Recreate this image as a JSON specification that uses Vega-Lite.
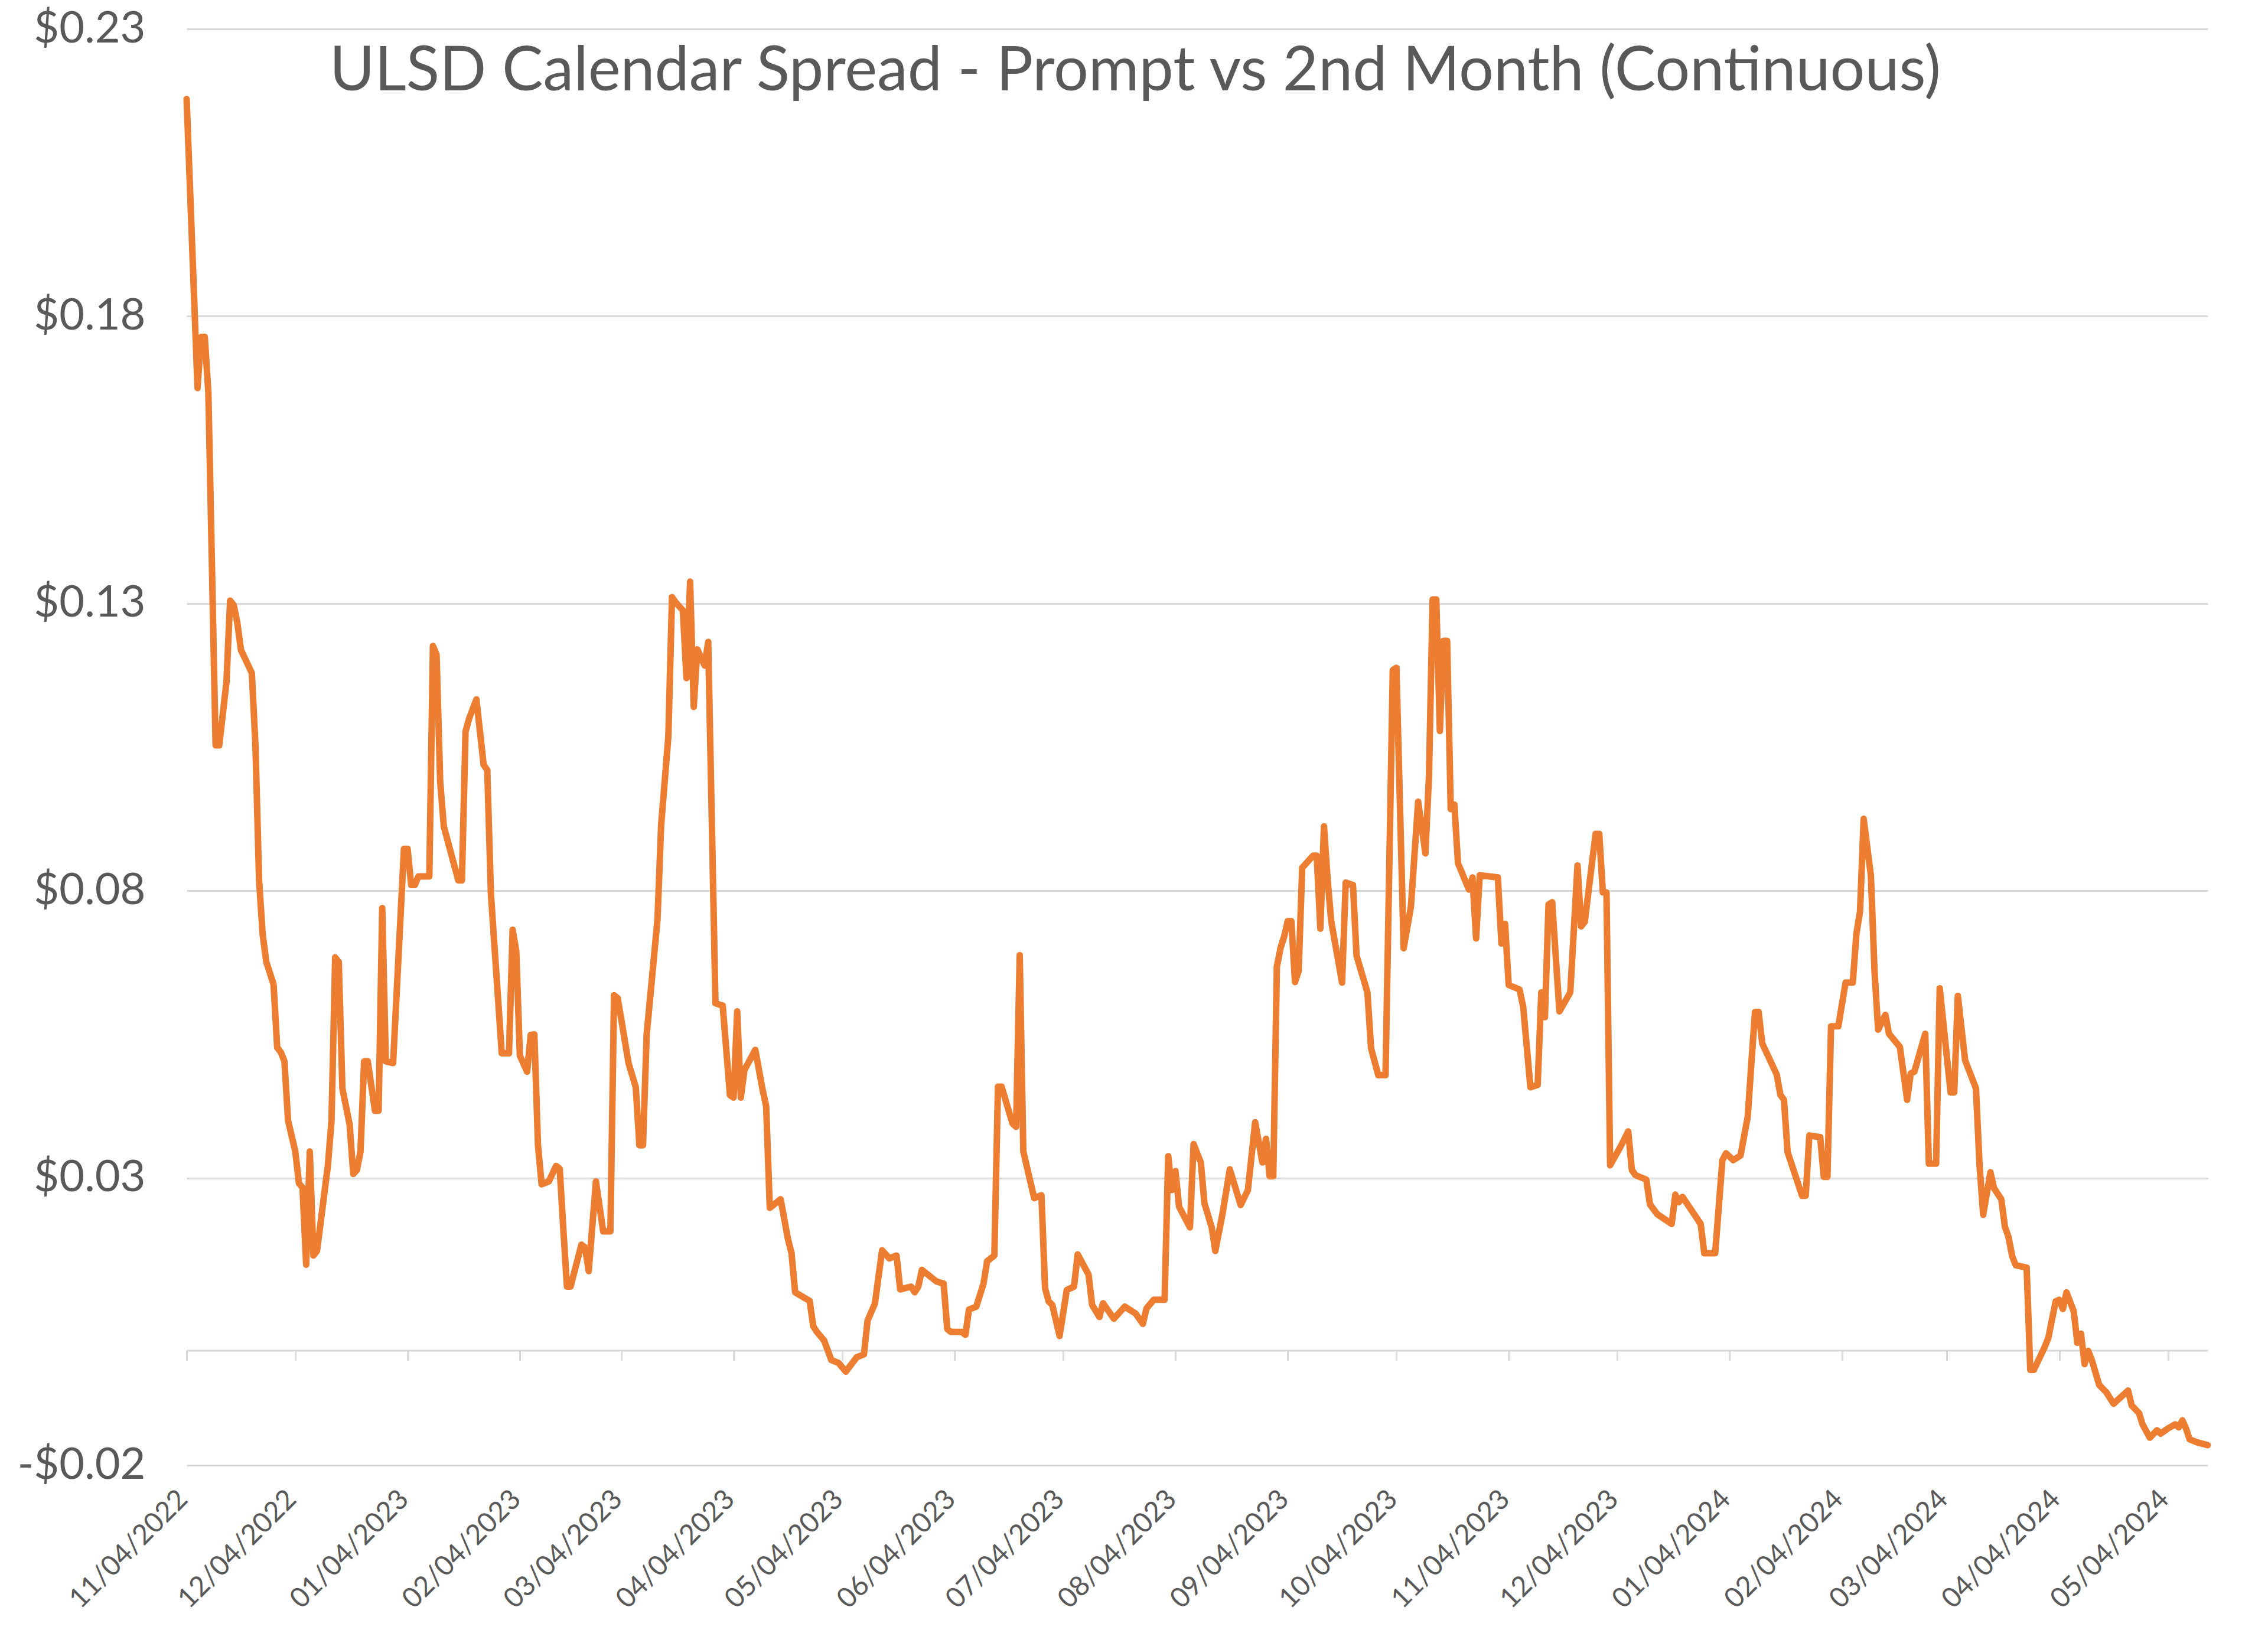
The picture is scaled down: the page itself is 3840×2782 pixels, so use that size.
{
  "$schema": "https://vega.github.io/schema/vega-lite/v6.json",
  "width": 3422,
  "height": 2432,
  "autosize": {"type": "none"},
  "padding": {"left": 316, "top": 49, "right": 102, "bottom": 301},
  "background": "white",
  "title": {
    "text": "ULSD Calendar Spread - Prompt vs 2nd Month (Continuous)",
    "font": "Lato", "fontSize": 104, "fontWeight": "normal", "color": "#595959",
    "anchor": "middle", "frame": "group", "dx": -105, "offset": -245, "baseline": "alphabetic", "limit": 0
  },
  "config": {"view": {"stroke": null}},
  "data": {"values": [
    {"d":"2022-11-04","v":0.2178},{"d":"2022-11-07","v":0.1675},{"d":"2022-11-08","v":0.1764},{"d":"2022-11-09","v":0.1764},{"d":"2022-11-10","v":0.1667},{"d":"2022-11-12","v":0.1053},{"d":"2022-11-13","v":0.1053},{"d":"2022-11-15","v":0.1164},{"d":"2022-11-16","v":0.1305},{"d":"2022-11-17","v":0.1297},{"d":"2022-11-18","v":0.1266},{"d":"2022-11-19","v":0.1219},{"d":"2022-11-22","v":0.1179},{"d":"2022-11-23","v":0.1053},{"d":"2022-11-24","v":0.0818},{"d":"2022-11-25","v":0.0723},{"d":"2022-11-26","v":0.0676},{"d":"2022-11-28","v":0.0637},{"d":"2022-11-29","v":0.0527},{"d":"2022-11-30","v":0.0519},
    {"d":"2022-12-01","v":0.0503},{"d":"2022-12-02","v":0.040},{"d":"2022-12-04","v":0.0346},{"d":"2022-12-05","v":0.0291},{"d":"2022-12-06","v":0.0283},{"d":"2022-12-07","v":0.0149},{"d":"2022-12-08","v":0.0346},{"d":"2022-12-09","v":0.0165},{"d":"2022-12-10","v":0.0173},{"d":"2022-12-13","v":0.0322},{"d":"2022-12-14","v":0.040},{"d":"2022-12-15","v":0.0684},{"d":"2022-12-16","v":0.0676},{"d":"2022-12-17","v":0.0456},{"d":"2022-12-19","v":0.0393},{"d":"2022-12-20","v":0.0307},{"d":"2022-12-21","v":0.0314},{"d":"2022-12-22","v":0.0346},{"d":"2022-12-23","v":0.0503},{"d":"2022-12-24","v":0.0503},{"d":"2022-12-26","v":0.0417},{"d":"2022-12-27","v":0.0417},{"d":"2022-12-28","v":0.077},{"d":"2022-12-29","v":0.0503},{"d":"2022-12-31","v":0.050},
    {"d":"2023-01-03","v":0.0873},{"d":"2023-01-04","v":0.0873},{"d":"2023-01-05","v":0.081},{"d":"2023-01-06","v":0.081},{"d":"2023-01-07","v":0.0825},{"d":"2023-01-10","v":0.0825},{"d":"2023-01-11","v":0.1226},{"d":"2023-01-12","v":0.1211},{"d":"2023-01-13","v":0.099},{"d":"2023-01-14","v":0.0912},{"d":"2023-01-18","v":0.0818},{"d":"2023-01-19","v":0.0818},{"d":"2023-01-20","v":0.1077},{"d":"2023-01-21","v":0.110},{"d":"2023-01-23","v":0.1133},{"d":"2023-01-25","v":0.1019},{"d":"2023-01-26","v":0.101},{"d":"2023-01-27","v":0.0795},{"d":"2023-01-30","v":0.0517},
    {"d":"2023-02-01","v":0.0517},{"d":"2023-02-02","v":0.0732},{"d":"2023-02-03","v":0.0695},{"d":"2023-02-04","v":0.0513},{"d":"2023-02-06","v":0.0485},{"d":"2023-02-07","v":0.0549},{"d":"2023-02-08","v":0.055},{"d":"2023-02-09","v":0.0357},{"d":"2023-02-10","v":0.0289},{"d":"2023-02-12","v":0.0294},{"d":"2023-02-14","v":0.0321},{"d":"2023-02-15","v":0.0316},{"d":"2023-02-16","v":0.0211},{"d":"2023-02-17","v":0.0111},{"d":"2023-02-18","v":0.0111},{"d":"2023-02-21","v":0.0184},{"d":"2023-02-22","v":0.0179},{"d":"2023-02-23","v":0.0138},{"d":"2023-02-25","v":0.0294},{"d":"2023-02-27","v":0.0207},
    {"d":"2023-03-01","v":0.0207},{"d":"2023-03-02","v":0.0618},{"d":"2023-03-03","v":0.0613},{"d":"2023-03-04","v":0.0576},{"d":"2023-03-06","v":0.050},{"d":"2023-03-08","v":0.0458},{"d":"2023-03-09","v":0.0357},{"d":"2023-03-10","v":0.0357},{"d":"2023-03-11","v":0.0549},{"d":"2023-03-14","v":0.075},{"d":"2023-03-15","v":0.0914},{"d":"2023-03-17","v":0.1069},{"d":"2023-03-18","v":0.1311},{"d":"2023-03-19","v":0.1302},{"d":"2023-03-21","v":0.1288},{"d":"2023-03-22","v":0.117},{"d":"2023-03-23","v":0.1338},{"d":"2023-03-24","v":0.112},{"d":"2023-03-25","v":0.122},{"d":"2023-03-27","v":0.1192},{"d":"2023-03-28","v":0.1233},{"d":"2023-03-30","v":0.0604},
    {"d":"2023-04-01","v":0.060},{"d":"2023-04-03","v":0.0444},{"d":"2023-04-04","v":0.044},{"d":"2023-04-05","v":0.059},{"d":"2023-04-06","v":0.044},{"d":"2023-04-07","v":0.0488},{"d":"2023-04-10","v":0.0523},{"d":"2023-04-12","v":0.0454},{"d":"2023-04-13","v":0.0425},{"d":"2023-04-14","v":0.0248},{"d":"2023-04-17","v":0.0263},{"d":"2023-04-19","v":0.0194},{"d":"2023-04-20","v":0.0169},{"d":"2023-04-21","v":0.0101},{"d":"2023-04-25","v":0.0086},{"d":"2023-04-26","v":0.0042},{"d":"2023-04-27","v":0.0032},{"d":"2023-04-29","v":0.0017},
    {"d":"2023-05-01","v":-0.0017},{"d":"2023-05-03","v":-0.0022},{"d":"2023-05-05","v":-0.0037},{"d":"2023-05-08","v":-0.0012},{"d":"2023-05-10","v":-0.0007},{"d":"2023-05-11","v":0.0052},{"d":"2023-05-13","v":0.0081},{"d":"2023-05-15","v":0.0174},{"d":"2023-05-17","v":0.016},{"d":"2023-05-19","v":0.0165},{"d":"2023-05-20","v":0.0106},{"d":"2023-05-23","v":0.0111},{"d":"2023-05-24","v":0.0101},{"d":"2023-05-25","v":0.0111},{"d":"2023-05-26","v":0.014},{"d":"2023-05-30","v":0.012},
    {"d":"2023-06-01","v":0.0116},{"d":"2023-06-02","v":0.0037},{"d":"2023-06-03","v":0.0032},{"d":"2023-06-06","v":0.0032},{"d":"2023-06-07","v":0.0027},{"d":"2023-06-08","v":0.0071},{"d":"2023-06-10","v":0.0076},{"d":"2023-06-12","v":0.0116},{"d":"2023-06-13","v":0.0155},{"d":"2023-06-15","v":0.0165},{"d":"2023-06-16","v":0.0459},{"d":"2023-06-17","v":0.0459},{"d":"2023-06-20","v":0.0395},{"d":"2023-06-21","v":0.0389},{"d":"2023-06-22","v":0.0688},{"d":"2023-06-23","v":0.0346},{"d":"2023-06-26","v":0.0265},{"d":"2023-06-28","v":0.027},{"d":"2023-06-29","v":0.0108},{"d":"2023-06-30","v":0.0085},
    {"d":"2023-07-01","v":0.0079},{"d":"2023-07-03","v":0.0025},{"d":"2023-07-05","v":0.0105},{"d":"2023-07-07","v":0.0111},{"d":"2023-07-08","v":0.0167},{"d":"2023-07-11","v":0.0132},{"d":"2023-07-12","v":0.0079},{"d":"2023-07-14","v":0.0058},{"d":"2023-07-15","v":0.0082},{"d":"2023-07-18","v":0.0055},{"d":"2023-07-21","v":0.0076},{"d":"2023-07-24","v":0.0064},{"d":"2023-07-26","v":0.0046},{"d":"2023-07-27","v":0.0073},{"d":"2023-07-29","v":0.0088},
    {"d":"2023-08-01","v":0.0088},{"d":"2023-08-02","v":0.0338},{"d":"2023-08-03","v":0.0279},{"d":"2023-08-04","v":0.0312},{"d":"2023-08-05","v":0.025},{"d":"2023-08-08","v":0.0214},{"d":"2023-08-09","v":0.0359},{"d":"2023-08-11","v":0.0327},{"d":"2023-08-12","v":0.0256},{"d":"2023-08-14","v":0.0214},{"d":"2023-08-15","v":0.0173},{"d":"2023-08-17","v":0.0238},{"d":"2023-08-19","v":0.0315},{"d":"2023-08-22","v":0.0253},{"d":"2023-08-24","v":0.0279},{"d":"2023-08-26","v":0.0397},{"d":"2023-08-28","v":0.0327},{"d":"2023-08-29","v":0.0368},{"d":"2023-08-30","v":0.0303},{"d":"2023-08-31","v":0.0303},
    {"d":"2023-09-01","v":0.0668},{"d":"2023-09-02","v":0.070},{"d":"2023-09-03","v":0.072},{"d":"2023-09-04","v":0.0747},{"d":"2023-09-05","v":0.0747},{"d":"2023-09-06","v":0.0641},{"d":"2023-09-07","v":0.066},{"d":"2023-09-08","v":0.084},{"d":"2023-09-11","v":0.0861},{"d":"2023-09-12","v":0.0861},{"d":"2023-09-13","v":0.0734},{"d":"2023-09-14","v":0.0912},{"d":"2023-09-15","v":0.082},{"d":"2023-09-16","v":0.0747},{"d":"2023-09-19","v":0.064},{"d":"2023-09-20","v":0.0814},{"d":"2023-09-22","v":0.081},{"d":"2023-09-23","v":0.0687},{"d":"2023-09-26","v":0.0623},{"d":"2023-09-27","v":0.0526},{"d":"2023-09-29","v":0.0479},
    {"d":"2023-10-01","v":0.0479},{"d":"2023-10-03","v":0.1184},{"d":"2023-10-04","v":0.1188},{"d":"2023-10-06","v":0.070},{"d":"2023-10-08","v":0.0772},{"d":"2023-10-10","v":0.0955},{"d":"2023-10-12","v":0.0865},{"d":"2023-10-13","v":0.1001},{"d":"2023-10-14","v":0.1307},{"d":"2023-10-15","v":0.1307},{"d":"2023-10-16","v":0.1078},{"d":"2023-10-17","v":0.1235},{"d":"2023-10-18","v":0.1235},{"d":"2023-10-19","v":0.0942},{"d":"2023-10-20","v":0.095},{"d":"2023-10-21","v":0.0848},{"d":"2023-10-24","v":0.0802},{"d":"2023-10-25","v":0.0823},{"d":"2023-10-26","v":0.0717},{"d":"2023-10-27","v":0.0827},
    {"d":"2023-11-01","v":0.0823},{"d":"2023-11-02","v":0.0708},{"d":"2023-11-03","v":0.0742},{"d":"2023-11-04","v":0.0636},{"d":"2023-11-07","v":0.0628},{"d":"2023-11-08","v":0.0598},{"d":"2023-11-10","v":0.0458},{"d":"2023-11-12","v":0.0462},{"d":"2023-11-13","v":0.0623},{"d":"2023-11-14","v":0.058},{"d":"2023-11-15","v":0.0776},{"d":"2023-11-16","v":0.078},{"d":"2023-11-18","v":0.059},{"d":"2023-11-21","v":0.0623},{"d":"2023-11-23","v":0.0844},{"d":"2023-11-24","v":0.0738},{"d":"2023-11-25","v":0.0746},{"d":"2023-11-28","v":0.0899},{"d":"2023-11-29","v":0.0899},{"d":"2023-11-30","v":0.0797},
    {"d":"2023-12-01","v":0.0797},{"d":"2023-12-02","v":0.0322},{"d":"2023-12-05","v":0.0356},{"d":"2023-12-07","v":0.0381},{"d":"2023-12-08","v":0.0314},{"d":"2023-12-09","v":0.0305},{"d":"2023-12-12","v":0.0297},{"d":"2023-12-13","v":0.0254},{"d":"2023-12-15","v":0.0237},{"d":"2023-12-19","v":0.022},{"d":"2023-12-20","v":0.0271},{"d":"2023-12-21","v":0.0258},{"d":"2023-12-22","v":0.0267},{"d":"2023-12-27","v":0.022},{"d":"2023-12-28","v":0.0169},{"d":"2023-12-31","v":0.0169},
    {"d":"2024-01-02","v":0.0331},{"d":"2024-01-03","v":0.0343},{"d":"2024-01-05","v":0.0331},{"d":"2024-01-07","v":0.0339},{"d":"2024-01-09","v":0.0407},{"d":"2024-01-10","v":0.050},{"d":"2024-01-11","v":0.0589},{"d":"2024-01-12","v":0.0589},{"d":"2024-01-13","v":0.0534},{"d":"2024-01-17","v":0.048},{"d":"2024-01-18","v":0.0445},{"d":"2024-01-19","v":0.0436},{"d":"2024-01-20","v":0.0345},{"d":"2024-01-24","v":0.0269},{"d":"2024-01-25","v":0.0269},{"d":"2024-01-26","v":0.0374},{"d":"2024-01-29","v":0.0371},{"d":"2024-01-30","v":0.0302},{"d":"2024-01-31","v":0.0302},
    {"d":"2024-02-01","v":0.0564},{"d":"2024-02-03","v":0.0564},{"d":"2024-02-05","v":0.064},{"d":"2024-02-07","v":0.064},{"d":"2024-02-08","v":0.0725},{"d":"2024-02-09","v":0.0764},{"d":"2024-02-10","v":0.0925},{"d":"2024-02-12","v":0.0826},{"d":"2024-02-13","v":0.066},{"d":"2024-02-14","v":0.0558},{"d":"2024-02-16","v":0.0584},{"d":"2024-02-17","v":0.0551},{"d":"2024-02-20","v":0.0528},{"d":"2024-02-22","v":0.0436},{"d":"2024-02-23","v":0.0482},{"d":"2024-02-24","v":0.0485},{"d":"2024-02-27","v":0.0551},{"d":"2024-02-28","v":0.0325},
    {"d":"2024-03-01","v":0.0325},{"d":"2024-03-02","v":0.063},{"d":"2024-03-05","v":0.0449},{"d":"2024-03-06","v":0.0449},{"d":"2024-03-07","v":0.0617},{"d":"2024-03-09","v":0.0505},{"d":"2024-03-12","v":0.0456},{"d":"2024-03-13","v":0.0322},{"d":"2024-03-14","v":0.0236},{"d":"2024-03-16","v":0.031},{"d":"2024-03-17","v":0.0282},{"d":"2024-03-19","v":0.0263},{"d":"2024-03-20","v":0.0215},{"d":"2024-03-21","v":0.0197},{"d":"2024-03-22","v":0.0164},{"d":"2024-03-23","v":0.0148},{"d":"2024-03-26","v":0.0144},{"d":"2024-03-27","v":-0.0034},{"d":"2024-03-28","v":-0.0034},{"d":"2024-03-31","v":0.0006},
    {"d":"2024-04-01","v":0.0022},{"d":"2024-04-03","v":0.0085},{"d":"2024-04-04","v":0.0088},{"d":"2024-04-05","v":0.0072},{"d":"2024-04-06","v":0.0101},{"d":"2024-04-08","v":0.0068},{"d":"2024-04-09","v":0.0013},{"d":"2024-04-10","v":0.0029},{"d":"2024-04-11","v":-0.0024},{"d":"2024-04-12","v":-0.0001},{"d":"2024-04-13","v":-0.0017},{"d":"2024-04-15","v":-0.006},{"d":"2024-04-17","v":-0.0073},{"d":"2024-04-19","v":-0.0093},{"d":"2024-04-23","v":-0.007},{"d":"2024-04-24","v":-0.0096},{"d":"2024-04-26","v":-0.0109},{"d":"2024-04-27","v":-0.0129},{"d":"2024-04-29","v":-0.0152},
    {"d":"2024-05-01","v":-0.0139},{"d":"2024-05-02","v":-0.0145},{"d":"2024-05-04","v":-0.0136},{"d":"2024-05-06","v":-0.0129},{"d":"2024-05-07","v":-0.0134},{"d":"2024-05-08","v":-0.0122},{"d":"2024-05-09","v":-0.0136},{"d":"2024-05-10","v":-0.0155},{"d":"2024-05-12","v":-0.016},{"d":"2024-05-15","v":-0.0165}
  ]},
  "layer": [
    {
      "mark": {"type": "line", "color": "#ED7D31", "strokeWidth": 11, "strokeCap": "round", "strokeJoin": "round"},
      "encoding": {
        "x": {
          "field": "d", "type": "temporal",
          "scale": {"type": "utc", "nice": false, "domain": [{"year": 2022, "month": 11, "date": 4, "utc": true}, {"year": 2024, "month": 5, "date": 15, "utc": true}]},
          "axis": {
            "title": null, "orient": "bottom", "domain": false, "ticks": false, "grid": false,
            "format": "%m/%d/%Y", "labelAngle": -45, "labelAlign": "right", "labelBaseline": "middle",
            "labelFont": "Lato", "labelFontSize": 47, "labelColor": "#595959", "labelPadding": 50, "labelOffset": -6, "labelLimit": 0,
            "labelOverlap": false, "labelBound": false, "labelFlush": false,
            "values": [
              {"year": 2022, "month": 11, "date": 4, "utc": true}, {"year": 2022, "month": 12, "date": 4, "utc": true},
              {"year": 2023, "month": 1, "date": 4, "utc": true}, {"year": 2023, "month": 2, "date": 4, "utc": true},
              {"year": 2023, "month": 3, "date": 4, "utc": true}, {"year": 2023, "month": 4, "date": 4, "utc": true},
              {"year": 2023, "month": 5, "date": 4, "utc": true}, {"year": 2023, "month": 6, "date": 4, "utc": true},
              {"year": 2023, "month": 7, "date": 4, "utc": true}, {"year": 2023, "month": 8, "date": 4, "utc": true},
              {"year": 2023, "month": 9, "date": 4, "utc": true}, {"year": 2023, "month": 10, "date": 4, "utc": true},
              {"year": 2023, "month": 11, "date": 4, "utc": true}, {"year": 2023, "month": 12, "date": 4, "utc": true},
              {"year": 2024, "month": 1, "date": 4, "utc": true}, {"year": 2024, "month": 2, "date": 4, "utc": true},
              {"year": 2024, "month": 3, "date": 4, "utc": true}, {"year": 2024, "month": 4, "date": 4, "utc": true},
              {"year": 2024, "month": 5, "date": 4, "utc": true}
            ]
          }
        },
        "y": {
          "field": "v", "type": "quantitative",
          "scale": {"domain": [-0.02, 0.23], "nice": false, "zero": false},
          "axis": {
            "title": null, "domain": false, "ticks": false, "grid": true, "gridColor": "#d9d9d9", "gridWidth": 3,
            "values": [-0.02, 0.03, 0.08, 0.13, 0.18, 0.23],
            "labelExpr": "datum.value < 0 ? '-$' + format(-datum.value, '.2f') : '$' + format(datum.value, '.2f')",
            "labelFont": "Lato", "labelFontSize": 74, "labelColor": "#595959", "labelPadding": 70, "labelLimit": 0
          }
        }
      }
    },
    {
      "mark": {"type": "line", "opacity": 0},
      "encoding": {
        "x": {
          "field": "d", "type": "temporal",
          "axis": {
            "title": null, "orient": "bottom", "offset": -194.56, "labels": false, "grid": false,
            "domain": true, "domainColor": "#d9d9d9", "domainWidth": 3,
            "ticks": true, "tickColor": "#d9d9d9", "tickWidth": 3, "tickSize": 17,
            "values": [
              {"year": 2022, "month": 11, "date": 4, "utc": true}, {"year": 2022, "month": 12, "date": 4, "utc": true},
              {"year": 2023, "month": 1, "date": 4, "utc": true}, {"year": 2023, "month": 2, "date": 4, "utc": true},
              {"year": 2023, "month": 3, "date": 4, "utc": true}, {"year": 2023, "month": 4, "date": 4, "utc": true},
              {"year": 2023, "month": 5, "date": 4, "utc": true}, {"year": 2023, "month": 6, "date": 4, "utc": true},
              {"year": 2023, "month": 7, "date": 4, "utc": true}, {"year": 2023, "month": 8, "date": 4, "utc": true},
              {"year": 2023, "month": 9, "date": 4, "utc": true}, {"year": 2023, "month": 10, "date": 4, "utc": true},
              {"year": 2023, "month": 11, "date": 4, "utc": true}, {"year": 2023, "month": 12, "date": 4, "utc": true},
              {"year": 2024, "month": 1, "date": 4, "utc": true}, {"year": 2024, "month": 2, "date": 4, "utc": true},
              {"year": 2024, "month": 3, "date": 4, "utc": true}, {"year": 2024, "month": 4, "date": 4, "utc": true},
              {"year": 2024, "month": 5, "date": 4, "utc": true}
            ]
          }
        },
        "y": {"field": "v", "type": "quantitative"}
      }
    }
  ],
  "resolve": {"axis": {"x": "independent"}}
}
